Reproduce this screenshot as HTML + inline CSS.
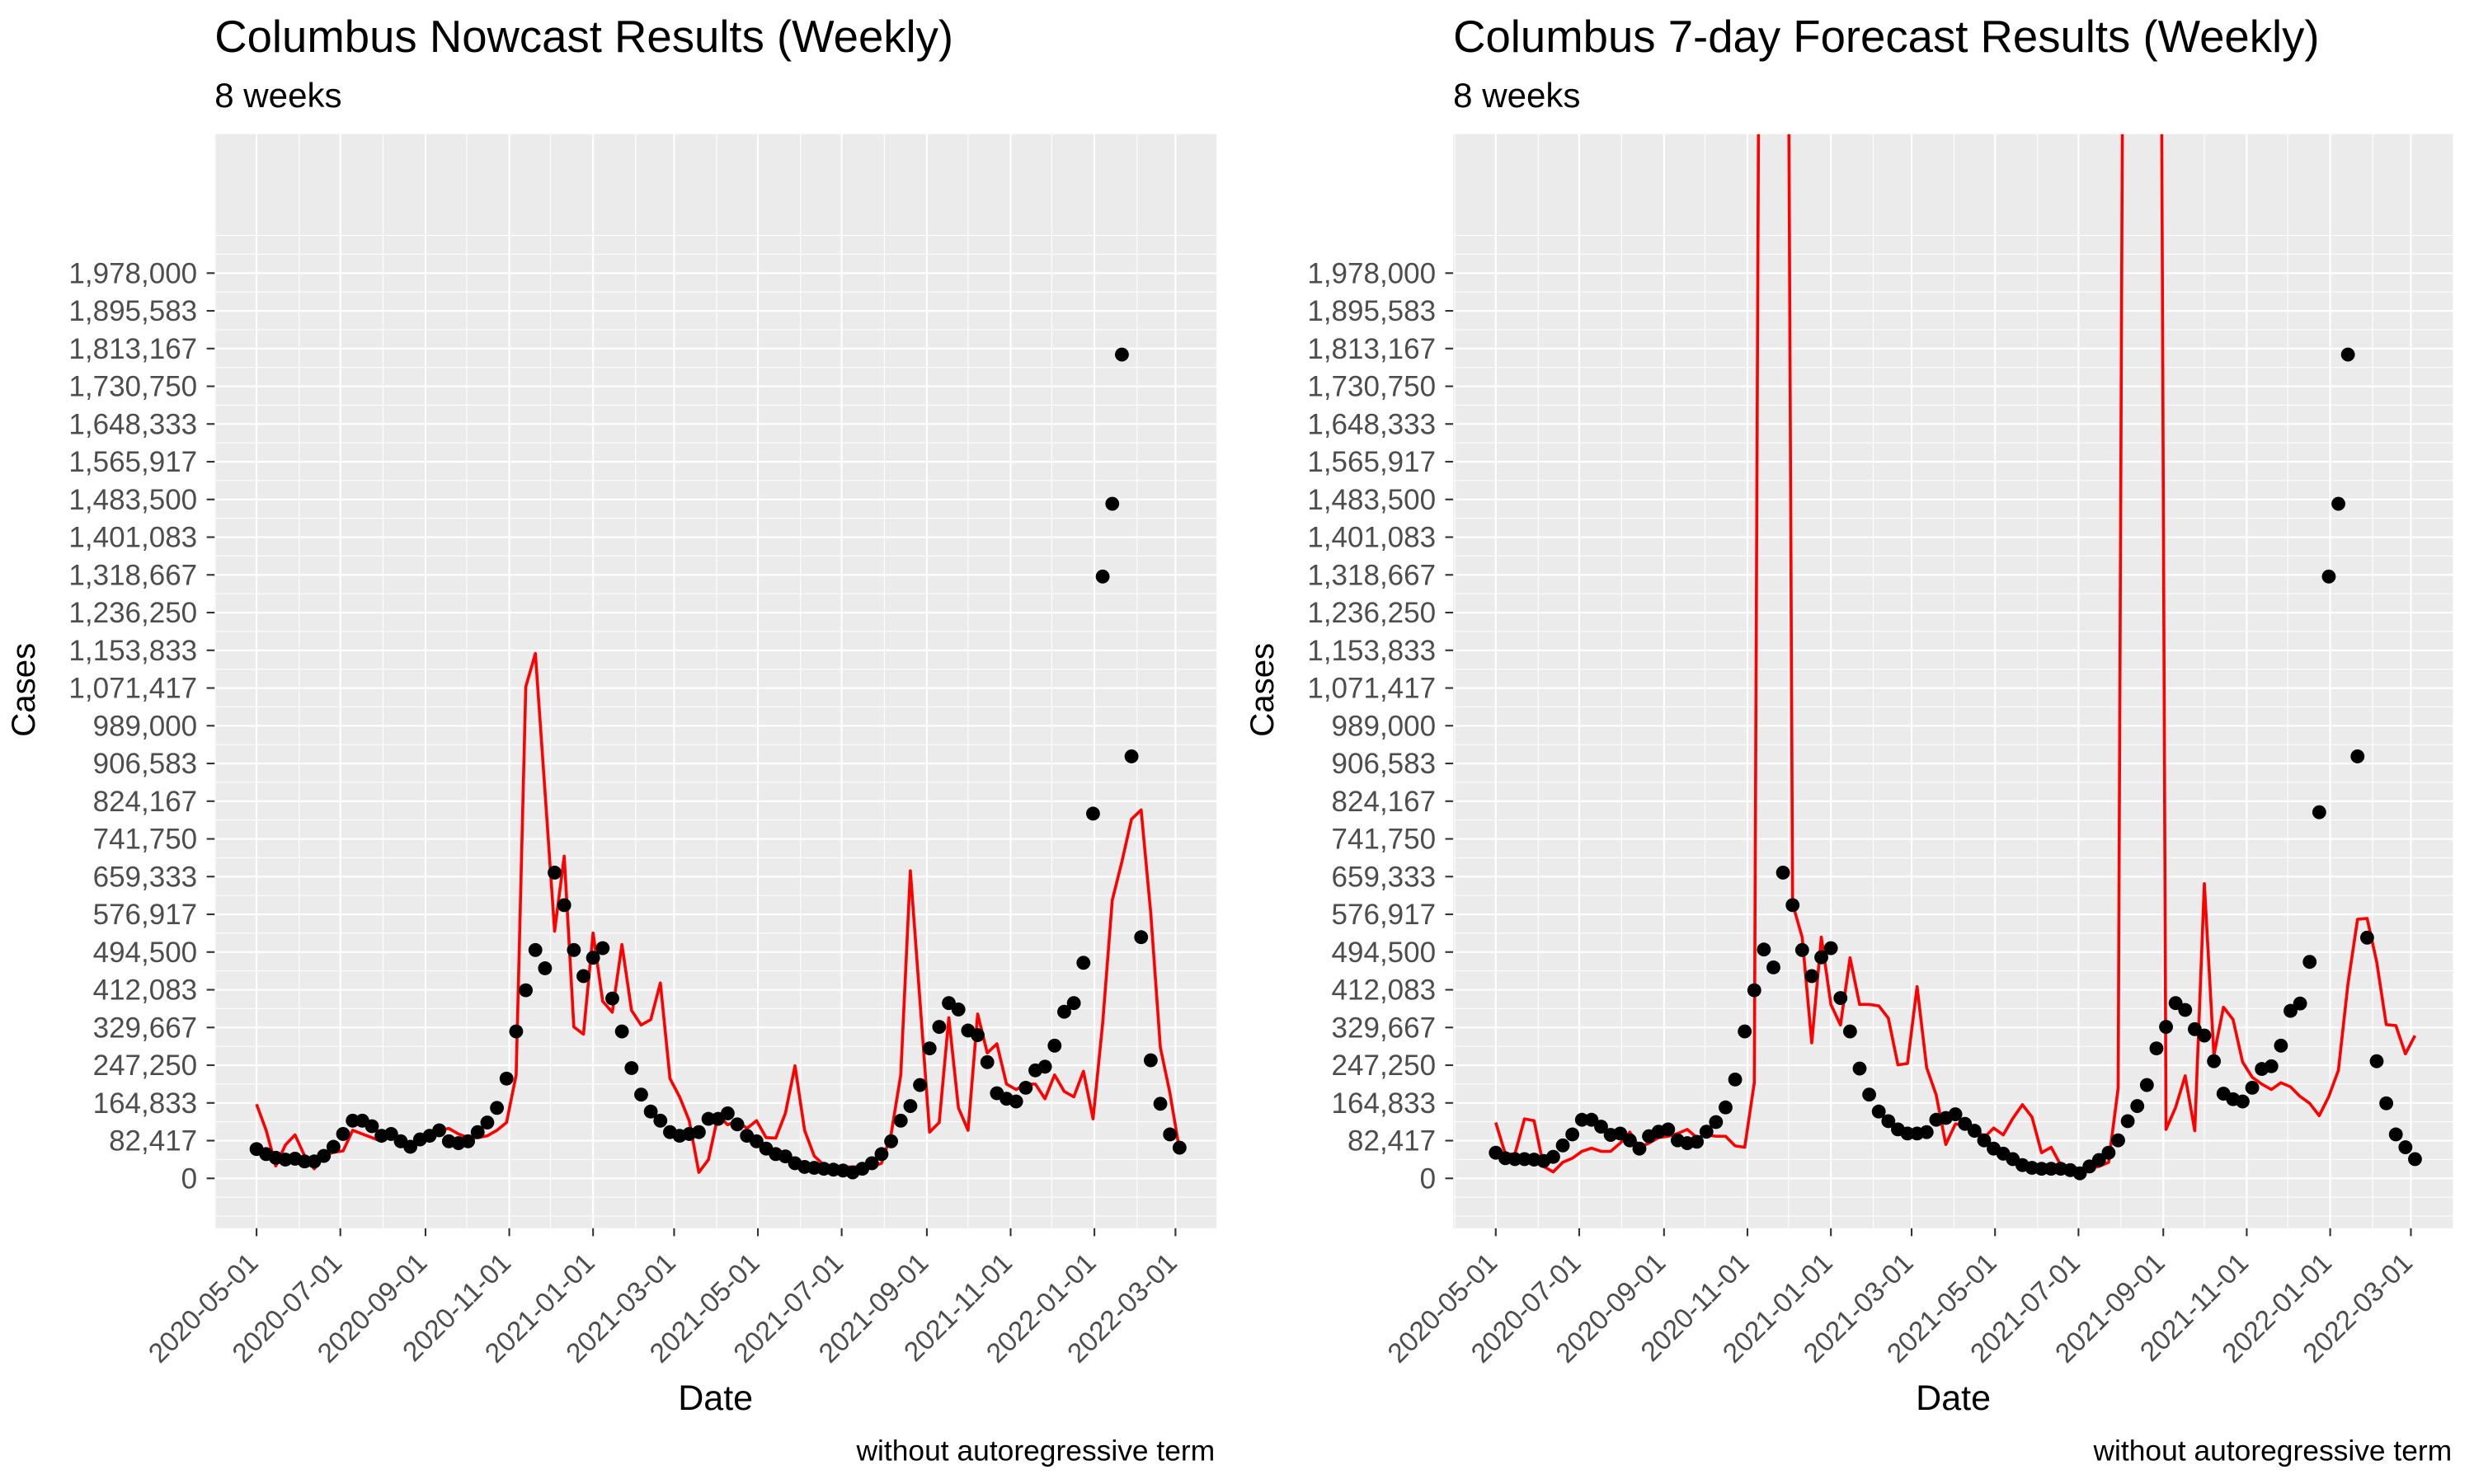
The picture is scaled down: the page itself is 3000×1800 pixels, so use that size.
<!DOCTYPE html>
<html><head><meta charset="utf-8"><style>
html,body{margin:0;padding:0;background:#fff;}
svg{display:block;font-family:"Liberation Sans",Arial,sans-serif;}
</style></head><body>
<svg id="chart" width="3000" height="1800" viewBox="0 0 1568 940" preserveAspectRatio="none" xmlns="http://www.w3.org/2000/svg">
<defs>
<clipPath id="clipL"><rect x="136" y="85" width="635" height="693"/></clipPath>
<clipPath id="clipR"><rect x="921" y="85" width="634" height="693"/></clipPath>
</defs>
<rect width="1568" height="940" fill="#fff"/>
<text x="136" y="33" font-size="28.5" fill="#000">Columbus Nowcast Results (Weekly)</text>
<text x="136" y="68" font-size="22" fill="#000">8 weeks</text>
<text x="921" y="33" font-size="28.5" fill="#000">Columbus 7-day Forecast Results (Weekly)</text>
<text x="921" y="68" font-size="22" fill="#000">8 weeks</text>
<g id="panelL"></g>
<g id="panelR"></g>
</svg>
<script>
// ---- data (values in thousands of cases), weekly from startDate ----
const startDate = "2020-05-01";
const nowcastActual = [64,53,45,41,43,37,37,49,69,97,126,126,114,93,97,81,69,85,93,105,81,77,81,101,122,154,218,321,411,499,459,668,597,499,442,482,503,393,321,241,183,146,126,101,93,97,101,130,130,142,118,93,81,65,53,48,33,25,23,21,19,17,13,21,33,53,81,126,158,204,284,331,383,369,323,313,254,186,174,168,198,236,244,290,364,383,471,797,1315,1474,1800,922,527,258,163,96,67];
const nowcastPred = [162,105,27,73,95,49,21,49,57,60,105,97,89,81,93,81,69,81,97,105,109,97,89,89,93,105,122,226,1074,1147,845,540,704,331,315,536,387,363,511,367,335,347,427,218,178,126,13,41,138,117,126,109,126,89,88,142,246,105,49,29,25,25,25,25,25,33,97,226,672,387,101,122,351,154,105,359,274,294,206,194,206,206,174,226,190,178,234,130,339,608,692,785,805,580,286,186,61];
const forecastActual = [56,44,42,42,41,38,47,72,96,128,128,113,95,98,83,65,92,102,107,83,77,80,102,123,155,216,321,411,500,461,668,597,499,442,483,503,394,321,240,183,146,125,107,98,98,101,128,132,140,119,104,83,65,54,42,29,23,21,21,21,18,11,26,40,56,83,125,158,204,284,331,383,368,326,312,256,185,173,168,198,239,245,290,366,382,473,800,1315,1474,1800,922,526,256,164,96,68,42];
const forecastPred = [122,53,53,130,126,26,14,35,44,59,66,59,59,77,101,68,77,89,92,98,107,89,95,92,92,71,68,209,5000,5000,5000,600,527,296,527,380,335,482,380,380,377,350,248,251,419,242,182,74,119,116,113,89,110,95,131,161,134,56,68,29,26,20,23,26,35,197,5000,5000,5000,5000,107,155,224,104,644,269,374,347,254,221,206,194,209,200,179,164,137,179,236,425,566,568,473,336,334,272,312];
const yTickLabels = ["0","82,417","164,833","247,250","329,667","412,083","494,500","576,917","659,333","741,750","824,167","906,583","989,000","1,071,417","1,153,833","1,236,250","1,318,667","1,401,083","1,483,500","1,565,917","1,648,333","1,730,750","1,813,167","1,895,583","1,978,000"];
const xTickLabels = ["2020-05-01","2020-07-01","2020-09-01","2020-11-01","2021-01-01","2021-03-01","2021-05-01","2021-07-01","2021-09-01","2021-11-01","2022-01-01","2022-03-01"];
const minorMonths = ["2020-04-01","2020-06-01","2020-08-01","2020-10-01","2020-12-01","2021-02-01","2021-04-01","2021-06-01","2021-08-01","2021-10-01","2021-12-01","2022-02-01","2022-04-01"];
const yMax = 1978000;

const NS = "http://www.w3.org/2000/svg";
function mk(tag, attrs, parent){const e=document.createElementNS(NS,tag);for(const k in attrs)e.setAttribute(k,attrs[k]);if(parent)parent.appendChild(e);return e;}
function dayNum(s){return Date.UTC(+s.slice(0,4),+s.slice(5,7)-1,+s.slice(8,10))/86400000;}
const d0 = dayNum("2020-05-01"), d1 = dayNum("2022-03-01");

function drawPanel(g, P, actual, pred, clipId){
  const xs = d => P.xa + (d - d0) * (P.xb - P.xa) / (d1 - d0);
  const ys = v => P.y0 - v / yMax * (P.y0 - P.yTop);
  const bg = mk('rect',{x:P.l,y:85,width:P.r-P.l,height:693,fill:'#ebebeb'},g);
  
  
  const grid = mk('g',{'clip-path':'url(#'+clipId+')'},g);
  
  
  const step = yMax/48;
  for(let k=-2;k<=50;k++){
    const y = ys(k*step);
    const major = (k%2===0 && k>=0 && k<=48);
    mk('line',{x1:P.l,x2:P.r,y1:y,y2:y,stroke:'#fff','stroke-width':major?1.1:0.55},grid);
  }
  minorMonths.forEach(m=>{const x=xs(dayNum(m));mk('line',{x1:x,x2:x,y1:85,y2:778,stroke:'#fff','stroke-width':0.55},grid);});
  xTickLabels.forEach(m=>{const x=xs(dayNum(m));mk('line',{x1:x,x2:x,y1:85,y2:778,stroke:'#fff','stroke-width':1.1},grid);});
  yTickLabels.forEach((lab,i)=>{
    const y = ys(i*2*step);
    mk('line',{x1:P.l-5,x2:P.l,y1:y,y2:y,stroke:'#333','stroke-width':1.1},g);
    const t = mk('text',{x:P.l-11,y:y+6.3,'text-anchor':'end','font-size':18.3,fill:'#4d4d4d'},g);
    t.textContent = lab;
    
    
  });
  xTickLabels.forEach(m=>{
    const x = xs(dayNum(m));
    mk('line',{x1:x,x2:x,y1:778,y2:783,stroke:'#333','stroke-width':1.1},g);
    const t = mk('text',{x:x+2,y:801,'text-anchor':'end','font-size':17.5,fill:'#4d4d4d',transform:'rotate(-45 '+(x+2)+' 801)'},g);
    t.textContent = m;
    
    
  });
  const data = mk('g',{'clip-path':'url(#'+clipId+')'},g);
  const dates = actual.map((_,i)=>dayNum(startDate)+7*i);
  const pts = pred.map((v,i)=>xs(dayNum(startDate)+7*i).toFixed(2)+','+ys(v*1000).toFixed(2)).join(' ');
  const line = mk('polyline',{points:pts,fill:'none',stroke:'#ff0000','stroke-width':1.9,'stroke-linejoin':'round'},data);
  
  
  actual.forEach((v,i)=>{
    const c = mk('circle',{cx:xs(dates[i]),cy:ys(v*1000),r:4.4,fill:'#000'},data);
    
    
  });
  const yt = mk('text',{x:P.l-114,y:437,'text-anchor':'middle','font-size':21,fill:'#000',transform:'rotate(-90 '+(P.l-114)+' 437)'},g);
  yt.textContent='Cases';
  
  
  const xt = mk('text',{x:(P.l+P.r)/2,y:893,'text-anchor':'middle','font-size':22.5,fill:'#000'},g);
  xt.textContent='Date';
  
  
  const cap = mk('text',{x:P.r-1,y:925,'text-anchor':'end','font-size':18.5,fill:'#000'},g);
  cap.textContent='without autoregressive term';
  
  
}
drawPanel(document.getElementById('panelL'),{l:136,r:771,xa:162.6,xb:745,y0:746.4,yTop:173},nowcastActual,nowcastPred,'clipL');
drawPanel(document.getElementById('panelR'),{l:921,r:1555,xa:948,xb:1528,y0:746.4,yTop:173},forecastActual,forecastPred,'clipR');
</script>
</body></html>
